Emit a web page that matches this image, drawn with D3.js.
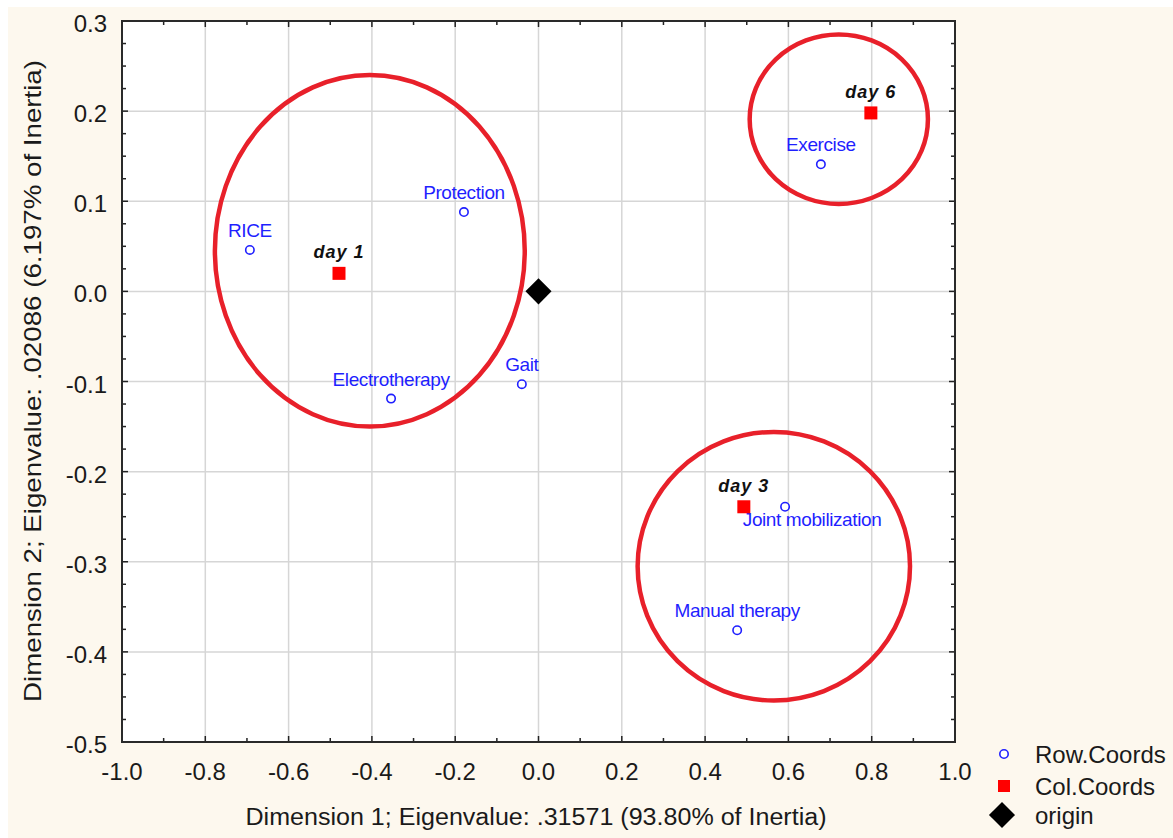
<!DOCTYPE html>
<html lang="en">
<head>
<meta charset="UTF-8">
<title>Correspondence analysis plot</title>
<script src="https://cdn.jsdelivr.net/npm/d3@7"></script>
<style>
  html, body { margin: 0; padding: 0; background: #fff; }
  svg { display: block; font-family: Arial, "Liberation Sans", sans-serif; }
</style>
</head>
<body>
<div id="chart"></div>
<script>
// row coordinates (blue open circles)
const rowLabels = ["RICE", "Protection", "Electrotherapy", "Gait", "Exercise", "Joint mobilization", "Manual therapy"];
const rowX = [-0.693, -0.179, -0.354, -0.040, 0.678, 0.592, 0.477];
const rowY = [0.046, 0.088, -0.119, -0.103, 0.141, -0.239, -0.376];

// column coordinates (red squares)
const colLabels = ["day 1", "day 3", "day 6"];
const colX = [-0.479, 0.493, 0.798];
const colY = [0.020, -0.239, 0.198];

// hand-drawn grouping ellipses: centre and radii in data units
const ringCx = [-0.405, 0.721, 0.565];
const ringCy = [0.045, 0.191, -0.305];
const ringRx = [0.372, 0.214, 0.327];
const ringRy = [0.195, 0.094, 0.149];

const xTicks = [-1.0, -0.8, -0.6, -0.4, -0.2, 0.0, 0.2, 0.4, 0.6, 0.8, 1.0];
const yTicks = [0.3, 0.2, 0.1, 0.0, -0.1, -0.2, -0.3, -0.4, -0.5];
const legendLabels = ["Row.Coords", "Col.Coords", "origin"];

const xTitle = "Dimension 1; Eigenvalue: .31571 (93.80% of Inertia)";
const yTitle = "Dimension 2; Eigenvalue: .02086 (6.197% of Inertia)";

const W = 1173, H = 838;
const blue = "#1f1fff", red = "#ff0000", ring = "#e8202a";
const fmt = d => d3.format(".1f")(d).replace("\u2212", "-");

const svg = d3.select("#chart").append("svg").attr("width", W).attr("height", H);

svg.append("rect").attr("x", 8).attr("y", 7).attr("width", W - 8).attr("height", H - 7)
   .attr("fill", "#fdf8ee");

const x = d3.scaleLinear().domain([-1, 1]).range([122, 955]);
const y = d3.scaleLinear().domain([-0.5, 0.3]).range([742, 21]);

const [x0, x1] = x.range(), [y0, y1] = [y(0.3), y(-0.5)];

svg.append("rect").attr("x", x0).attr("y", y0).attr("width", x1 - x0).attr("height", y1 - y0)
   .attr("fill", "#fff");

// grid
const grid = svg.append("g").attr("stroke", "#d6d6d6").attr("stroke-width", 1.5);
grid.selectAll(".gx").data(xTicks.slice(1, -1)).join("line")
    .attr("x1", d => x(d)).attr("x2", d => x(d)).attr("y1", y0).attr("y2", y1);
grid.selectAll(".gy").data(yTicks.slice(1, -1)).join("line")
    .attr("y1", d => y(d)).attr("y2", d => y(d)).attr("x1", x0).attr("x2", x1);

// inward ticks on all four sides
const xMinor = d3.range(-0.9, 1.0, 0.2);
const yMinor = d3.range(-0.5, 0.3, 0.1).flatMap(v => [v + 0.025, v + 0.05, v + 0.075]);
const tk = svg.append("g").attr("stroke", "#222").attr("stroke-width", 1.5);
[[xTicks, 6], [xMinor, 4]].forEach(([vals, len]) => {
  tk.selectAll(null).data(vals).join("line")
    .attr("x1", d => x(d)).attr("x2", d => x(d)).attr("y1", y1).attr("y2", y1 - len);
  tk.selectAll(null).data(vals).join("line")
    .attr("x1", d => x(d)).attr("x2", d => x(d)).attr("y1", y0).attr("y2", y0 + len);
});
[[yTicks, 6], [yMinor, 4]].forEach(([vals, len]) => {
  tk.selectAll(null).data(vals).join("line")
    .attr("y1", d => y(d)).attr("y2", d => y(d)).attr("x1", x0).attr("x2", x0 + len);
  tk.selectAll(null).data(vals).join("line")
    .attr("y1", d => y(d)).attr("y2", d => y(d)).attr("x1", x1).attr("x2", x1 - len);
});

svg.append("rect").attr("x", x0).attr("y", y0).attr("width", x1 - x0).attr("height", y1 - y0)
   .attr("fill", "none").attr("stroke", "#2a2a2a").attr("stroke-width", 2);

// tick labels
svg.append("g").selectAll("text").data(xTicks).join("text")
   .attr("x", d => x(d)).attr("y", 780).attr("text-anchor", "middle")
   .attr("font-size", 24).attr("fill", "#1a1a1a").text(fmt);
svg.append("g").selectAll("text").data(yTicks).join("text")
   .attr("x", 107).attr("y", d => y(d) + 11).attr("text-anchor", "end")
   .attr("font-size", 24).attr("fill", "#1a1a1a").text(fmt);

// axis titles
svg.append("text").attr("x", 536).attr("y", 825).attr("text-anchor", "middle")
   .attr("font-size", 23).attr("fill", "#1a1a1a")
   .attr("textLength", 581).attr("lengthAdjust", "spacingAndGlyphs").text(xTitle);
svg.append("text").attr("transform", "translate(41,381) rotate(-90)").attr("text-anchor", "middle")
   .attr("font-size", 24).attr("fill", "#1a1a1a")
   .attr("textLength", 642).attr("lengthAdjust", "spacingAndGlyphs").text(yTitle);

const plot = svg.append("g");

// ellipses
plot.selectAll("ellipse").data(ringCx).join("ellipse")
    .attr("cx", d => x(d))
    .attr("cy", (d, i) => y(ringCy[i]))
    .attr("rx", (d, i) => x(ringRx[i]) - x(0))
    .attr("ry", (d, i) => y(0) - y(ringRy[i]))
    .attr("fill", "none").attr("stroke", ring).attr("stroke-width", 4.5);

// origin diamond
plot.append("path").attr("d", d3.symbol(d3.symbolSquare, 340)())
    .attr("transform", `translate(${x(0)},${y(0)}) rotate(45)`).attr("fill", "#000");

// row points
plot.selectAll(".row").data(rowLabels).join("circle")
    .attr("cx", (d, i) => x(rowX[i])).attr("cy", (d, i) => y(rowY[i])).attr("r", 4.2)
    .attr("fill", "#fff").attr("stroke", blue).attr("stroke-width", 1.6);

// row labels: centred above the point, except "Joint mobilization" which sits below right
plot.selectAll(".rowlab").data(rowLabels).join("text")
    .attr("x", (d, i) => x(rowX[i]) + (d === "Joint mobilization" ? 27 : 0))
    .attr("y", (d, i) => y(rowY[i]) + (d === "Joint mobilization" ? 19 : -13))
    .attr("text-anchor", "middle").attr("font-size", 19).attr("fill", blue)
    .attr("letter-spacing", -0.4).text(d => d);

// column points
plot.selectAll(".col").data(colLabels).join("rect")
    .attr("x", (d, i) => x(colX[i]) - 6.5).attr("y", (d, i) => y(colY[i]) - 6.5)
    .attr("width", 13).attr("height", 13).attr("fill", red);

plot.selectAll(".collab").data(colLabels).join("text")
    .attr("x", (d, i) => x(colX[i])).attr("y", (d, i) => y(colY[i]) - 15)
    .attr("text-anchor", "middle").attr("font-size", 18).attr("font-weight", "bold")
    .attr("font-style", "italic").attr("letter-spacing", 1).attr("fill", "#111")
    .text(d => d);

// legend
const leg = svg.append("g");
const legY = [754, 786, 815];
leg.append("circle").attr("cx", 1004).attr("cy", legY[0]).attr("r", 4.2)
   .attr("fill", "#fff").attr("stroke", blue).attr("stroke-width", 1.6);
leg.append("rect").attr("x", 998).attr("y", legY[1] - 6).attr("width", 12).attr("height", 12).attr("fill", red);
leg.append("path").attr("d", d3.symbol(d3.symbolSquare, 340)())
   .attr("transform", `translate(1002,${legY[2]}) rotate(45)`).attr("fill", "#000");
leg.selectAll("text").data(legendLabels).join("text")
   .attr("x", 1035).attr("y", (d, i) => legY[i] + 9).attr("font-size", 24).attr("fill", "#1a1a1a")
   .text(d => d);
</script>
</body>
</html>
